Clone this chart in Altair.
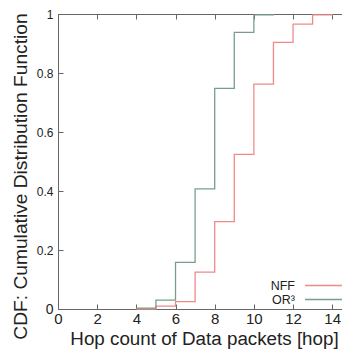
import altair as alt
import pandas as pd

# Data (step CDFs)
nff_hops = [4, 5, 6, 7, 8, 9, 10, 11, 12, 13, 14]
nff_cdf = [0.0, 0.01, 0.025, 0.125, 0.296, 0.524, 0.762, 0.904, 0.966, 0.997, 1.0]
or3_hops = [4, 5, 6, 7, 8, 9, 10, 11]
or3_cdf = [0.003, 0.03, 0.158, 0.407, 0.748, 0.938, 0.997, 1.0]

series_names = ["NFF", "OR³"]
series_colors = ["#ee8a8a", "#7a9e8a"]

x_ticks = [0, 2, 4, 6, 8, 10, 12, 14]
y_ticks = [0, 0.2, 0.4, 0.6, 0.8, 1]

rows = []
for h, c in zip(nff_hops, nff_cdf):
    rows.append({"hop": h, "cdf": c, "series": "NFF"})
for h, c in zip(or3_hops, or3_cdf):
    rows.append({"hop": h, "cdf": c, "series": "OR³"})
df = pd.DataFrame(rows)

W, H = 284, 295
FONT = "Liberation Sans"
X_DOMAIN = [0, 14.5]

def xs():
    return alt.Scale(domain=X_DOMAIN, nice=False, zero=False)

yscale = alt.Scale(domain=[0, 1], nice=False)

x_axis = alt.Axis(
    orient="bottom", values=x_ticks, format="d", ticks=False, labelPadding=2, labelFontSize=15,
    labelFont=FONT, labelColor="#222", domainColor="#666",
    grid=True, gridColor="#666", gridDash=[5, H - 10, 5, 2000], gridOpacity=1,
    title="Hop count of Data packets [hop]", titleFont=FONT, titleFontSize=18.8,
    titleFontWeight="normal", titleColor="#222", titleX=146, titleY=35,
    titleBaseline="alphabetic", titleAlign="center", labelFlush=False,
)
y_axis = alt.Axis(
    values=y_ticks, format="~g", ticks=False, labelPadding=5,
    labelFontSize=alt.expr("datum.value == 0 ? 14 : 12"),
    labelFont=FONT, labelColor="#222", domainColor="#666",
    grid=True, gridColor="#666", gridDash=[5, 2000], gridOpacity=1,
    title="CDF: Cumulative Distribution Function", titleFont=FONT, titleFontSize=19.2,
    titleFontWeight="normal", titleColor="#222", titleAngle=270, titleX=-38, titleY=162,
    titleAlign="center", titleBaseline="middle", labelFlush=False,
)

lines = alt.Chart(df).mark_line(interpolate="step-after", strokeWidth=1.3).encode(
    x=alt.X("hop:Q", scale=xs(), axis=x_axis),
    y=alt.Y("cdf:Q", scale=yscale, axis=y_axis),
    color=alt.Color("series:N", scale=alt.Scale(domain=series_names, range=series_colors), legend=None),
)

top_axis = alt.Chart(pd.DataFrame({"hop": [0]})).mark_rule(opacity=0).encode(
    x=alt.X("hop:Q", scale=xs(),
            axis=alt.Axis(orient="top", labels=False, ticks=False, domainColor="#666",
                          title=None, grid=False)),
)

leg_df = pd.DataFrame({"series": series_names, "row": [0, 1]})
leg_y = alt.Y("row:Q", scale=alt.Scale(domain=[0, 1], range=[271.5, 285.5]), axis=None)
leg_text = alt.Chart(leg_df).mark_text(align="right", baseline="middle", font=FONT,
                                        fontSize=12.5, color="#222").encode(
    text="series:N",
    x=alt.value(237),
    y=leg_y,
)
leg_lines = alt.Chart(leg_df).mark_rule(strokeWidth=1.3).encode(
    x=alt.value(247), x2=alt.value(284),
    y=leg_y,
    color=alt.Color("series:N", scale=alt.Scale(domain=series_names, range=series_colors), legend=None),
)

chart = alt.layer(lines, top_axis, leg_lines, leg_text).resolve_scale(
    x="independent", y="independent"
).properties(
    width=W, height=H,
    autosize=alt.AutoSizeParams(type="none"),
    padding={"left": 50, "top": 6, "right": 0, "bottom": 42},
).configure_view(stroke=None).configure(background="white")

chart.save("out.html", embed_options={"renderer": "svg", "actions": False})
